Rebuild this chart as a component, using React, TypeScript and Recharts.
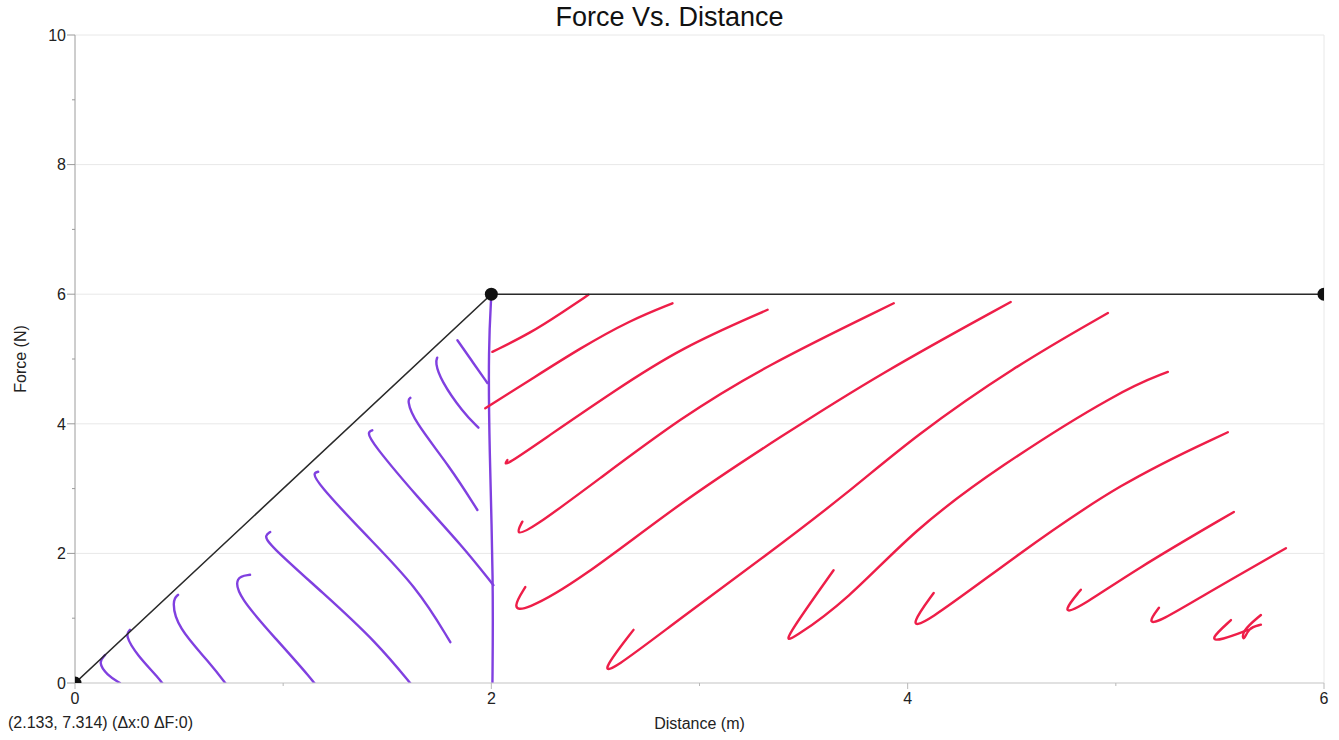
import React from 'react';
import { LineChart, Line, XAxis, YAxis, CartesianGrid } from 'recharts';

// Force vs distance trace (the graphed data)
const forcePath = [
  { x: 0, y: 0 },
  { x: 2, y: 6 },
  { x: 6, y: 6 },
];

// Hand drawn purple hatching (under the ramp), in data units
const purple1 = [{ x: 0.144, y: 0.43 }, { x: 0.111, y: 0.32 }, { x: 0.154, y: 0.12 }, { x: 0.216, y: 0 }];
const purple2 = [{ x: 0.264, y: 0.82 }, { x: 0.24, y: 0.74 }, { x: 0.298, y: 0.43 }, { x: 0.399, y: 0.09 }, { x: 0.442, y: -0.1 }];
const purple3 = [{ x: 0.495, y: 1.36 }, { x: 0.466, y: 1.28 }, { x: 0.49, y: 0.86 }, { x: 0.649, y: 0.31 }, { x: 0.736, y: -0.06 }];
const purple4 = [{ x: 0.841, y: 1.67 }, { x: 0.769, y: 1.64 }, { x: 0.784, y: 1.33 }, { x: 0.971, y: 0.66 }, { x: 1.13, y: 0.09 }, { x: 1.212, y: -0.26 }];
const purple5 = [{ x: 0.938, y: 2.33 }, { x: 0.913, y: 2.28 }, { x: 0.923, y: 2.16 }, { x: 1.192, y: 1.39 }, { x: 1.452, y: 0.62 }, { x: 1.625, y: -0.06 }];
const purple6 = [{ x: 1.168, y: 3.26 }, { x: 1.144, y: 3.24 }, { x: 1.163, y: 3.09 }, { x: 1.385, y: 2.32 }, { x: 1.644, y: 1.48 }, { x: 1.803, y: 0.63 }];
const purple7 = [{ x: 1.428, y: 3.9 }, { x: 1.404, y: 3.87 }, { x: 1.428, y: 3.7 }, { x: 1.644, y: 2.87 }, { x: 1.865, y: 2.1 }, { x: 2.01, y: 1.51 }];
const purple8 = [{ x: 1.611, y: 4.4 }, { x: 1.596, y: 4.37 }, { x: 1.625, y: 4.06 }, { x: 1.803, y: 3.33 }, { x: 1.933, y: 2.67 }];
const purple9 = [{ x: 1.74, y: 5.02 }, { x: 1.731, y: 4.95 }, { x: 1.755, y: 4.68 }, { x: 1.865, y: 4.17 }, { x: 1.938, y: 3.94 }];
const purple10 = [{ x: 1.837, y: 5.29 }, { x: 1.913, y: 4.94 }, { x: 1.981, y: 4.63 }];
const purpleDrop = [{ x: 2.0, y: 5.99 }, { x: 1.986, y: 5.19 }, { x: 1.99, y: 3.64 }, { x: 2.01, y: 1.59 }, { x: 2.005, y: -0.1 }];

// Hand drawn red hatching (under the flat part)
const red1 = [{ x: 2.005, y: 5.11 }, { x: 2.188, y: 5.4 }, { x: 2.346, y: 5.73 }, { x: 2.466, y: 5.99 }];
const red2 = [{ x: 1.971, y: 4.24 }, { x: 2.188, y: 4.68 }, { x: 2.428, y: 5.17 }, { x: 2.668, y: 5.6 }, { x: 2.87, y: 5.86 }];
const red3 = [{ x: 2.077, y: 3.44 }, { x: 2.053, y: 3.32 }, { x: 2.269, y: 3.8 }, { x: 2.587, y: 4.5 }, { x: 2.909, y: 5.17 }, { x: 3.327, y: 5.76 }];
const red4 = [{ x: 2.149, y: 2.49 }, { x: 2.115, y: 2.28 }, { x: 2.188, y: 2.36 }, { x: 2.51, y: 3.13 }, { x: 2.909, y: 4.09 }, { x: 3.308, y: 4.88 }, { x: 3.933, y: 5.86 }];
const red5 = [{ x: 2.163, y: 1.48 }, { x: 2.101, y: 1.16 }, { x: 2.154, y: 1.1 }, { x: 2.428, y: 1.59 }, { x: 2.909, y: 2.79 }, { x: 3.389, y: 3.8 }, { x: 3.87, y: 4.78 }, { x: 4.495, y: 5.88 }];
const red6 = [{ x: 2.683, y: 0.82 }, { x: 2.534, y: 0.2 }, { x: 2.572, y: 0.17 }, { x: 2.909, y: 1.0 }, { x: 3.308, y: 1.94 }, { x: 3.712, y: 2.93 }, { x: 4.029, y: 3.8 }, { x: 4.51, y: 4.88 }, { x: 4.962, y: 5.71 }];
const red7 = [{ x: 3.644, y: 1.74 }, { x: 3.399, y: 0.63 }, { x: 3.438, y: 0.66 }, { x: 3.712, y: 1.28 }, { x: 4.029, y: 2.36 }, { x: 4.433, y: 3.33 }, { x: 5.024, y: 4.52 }, { x: 5.25, y: 4.8 }];
const red8 = [{ x: 4.125, y: 1.39 }, { x: 4.014, y: 0.9 }, { x: 4.063, y: 0.86 }, { x: 4.51, y: 1.94 }, { x: 5.024, y: 3.1 }, { x: 5.538, y: 3.87 }];
const red9 = [{ x: 4.832, y: 1.44 }, { x: 4.745, y: 1.1 }, { x: 4.798, y: 1.1 }, { x: 5.087, y: 1.74 }, { x: 5.567, y: 2.64 }];
const red10 = [{ x: 5.207, y: 1.16 }, { x: 5.154, y: 0.93 }, { x: 5.202, y: 0.93 }, { x: 5.409, y: 1.33 }, { x: 5.817, y: 2.08 }];
const red11 = [{ x: 5.553, y: 0.97 }, { x: 5.447, y: 0.66 }, { x: 5.505, y: 0.66 }, { x: 5.635, y: 0.82 }];
const red12 = [{ x: 5.697, y: 1.05 }, { x: 5.601, y: 0.79 }, { x: 5.615, y: 0.63 }, { x: 5.635, y: 0.85 }, { x: 5.697, y: 0.9 }];

const purpleStrokes = [purple1, purple2, purple3, purple4, purple5, purple6, purple7, purple8, purple9, purple10, purpleDrop];
const redStrokes = [red1, red2, red3, red4, red5, red6, red7, red8, red9, red10, red11, red12];

const xTicks = [0, 1, 2, 3, 4, 5, 6];
const yTicks = [0, 1, 2, 3, 4, 5, 6, 7, 8, 9, 10];
const gridX = [0, 6];
const gridY = [0, 2, 4, 6, 8, 10];

const FONT = '"Liberation Sans", Arial, sans-serif';
const PURPLE = '#8040e0';
const RED = '#ee1e48';
const X_MARGIN = 10;
const Y_MARGIN = 9;

const XTick = (props: any) => {
  const { x, y, payload } = props;
  const major = payload.value % 2 === 0;
  const axisY = y - X_MARGIN;
  return (
    <g>
      <line x1={x} x2={x} y1={axisY} y2={axisY + (major ? 6 : 3)} stroke="#b8b8b8" />
      {major && (
        <text x={x} y={y} dy="0.71em" textAnchor="middle" fontSize={16} fill="#222" fontFamily={FONT}>
          {payload.value}
        </text>
      )}
    </g>
  );
};

const YTick = (props: any) => {
  const { x, y, payload } = props;
  const major = payload.value % 2 === 0;
  const axisX = x + Y_MARGIN;
  return (
    <g>
      <line x1={axisX} x2={axisX - (major ? 8 : 3)} y1={y} y2={y} stroke="#9a9a9a" />
      {major && (
        <text x={x} y={y} dy="0.36em" textAnchor="end" fontSize={16} fill="#222" fontFamily={FONT}>
          {payload.value}
        </text>
      )}
    </g>
  );
};

export default function App() {
  return (
    <div style={{ position: 'absolute', left: 0, top: 0, width: 1339, height: 740, background: '#fff', fontFamily: FONT }}>
      <div style={{ position: 'absolute', left: 0, top: 2, width: 1339, textAlign: 'center', fontSize: 27, color: '#111' }}>
        Force Vs. Distance
      </div>
      <div style={{ position: 'absolute', left: 8, top: 714, fontSize: 16, color: '#222' }}>
        (2.133, 7.314) (Δx:0 ΔF:0)
      </div>
      <div style={{ position: 'absolute', left: 0, top: 0 }}>
        <LineChart width={1339} height={740} margin={{ top: 35, right: 15, bottom: 0, left: 0 }}>
          <CartesianGrid stroke="#e8e8e8" horizontalValues={gridY} verticalValues={gridX} />
          <XAxis
            type="number"
            dataKey="x"
            domain={[0, 6]}
            ticks={xTicks}
            allowDataOverflow
            height={57}
            stroke="#cfcfcf"
            tickLine={false}
            tickSize={0}
            tickMargin={X_MARGIN}
            tick={<XTick />}
            label={{ value: 'Distance (m)', position: 'insideBottom', offset: 11, fontSize: 16, fill: '#222', fontFamily: FONT }}
          />
          <YAxis
            type="number"
            dataKey="y"
            domain={[0, 10]}
            ticks={yTicks}
            allowDataOverflow
            width={75}
            stroke="#a8a8a8"
            tickLine={false}
            tickSize={0}
            tickMargin={Y_MARGIN}
            tick={<YTick />}
            label={{ value: 'Force (N)', angle: -90, position: 'insideLeft', offset: 20, style: { textAnchor: 'middle' }, fontSize: 16, fill: '#222', fontFamily: FONT }}
          />
          {purpleStrokes.map((s, i) => (
            <Line
              key={'p' + i}
              data={s}
              dataKey="y"
              type="basis"
              stroke={PURPLE}
              strokeWidth={2.4}
              strokeLinecap="round"
              dot={false}
              isAnimationActive={false}
            />
          ))}
          {redStrokes.map((s, i) => (
            <Line
              key={'r' + i}
              data={s}
              dataKey="y"
              type="basis"
              stroke={RED}
              strokeWidth={2.4}
              strokeLinecap="round"
              dot={false}
              isAnimationActive={false}
            />
          ))}
          <Line
            data={forcePath}
            dataKey="y"
            type="linear"
            stroke="#2a2a2a"
            strokeWidth={1.6}
            dot={{ r: 6.5, fill: '#111', stroke: '#111', strokeWidth: 0 }}
            isAnimationActive={false}
          />
        </LineChart>
      </div>
    </div>
  );
}
